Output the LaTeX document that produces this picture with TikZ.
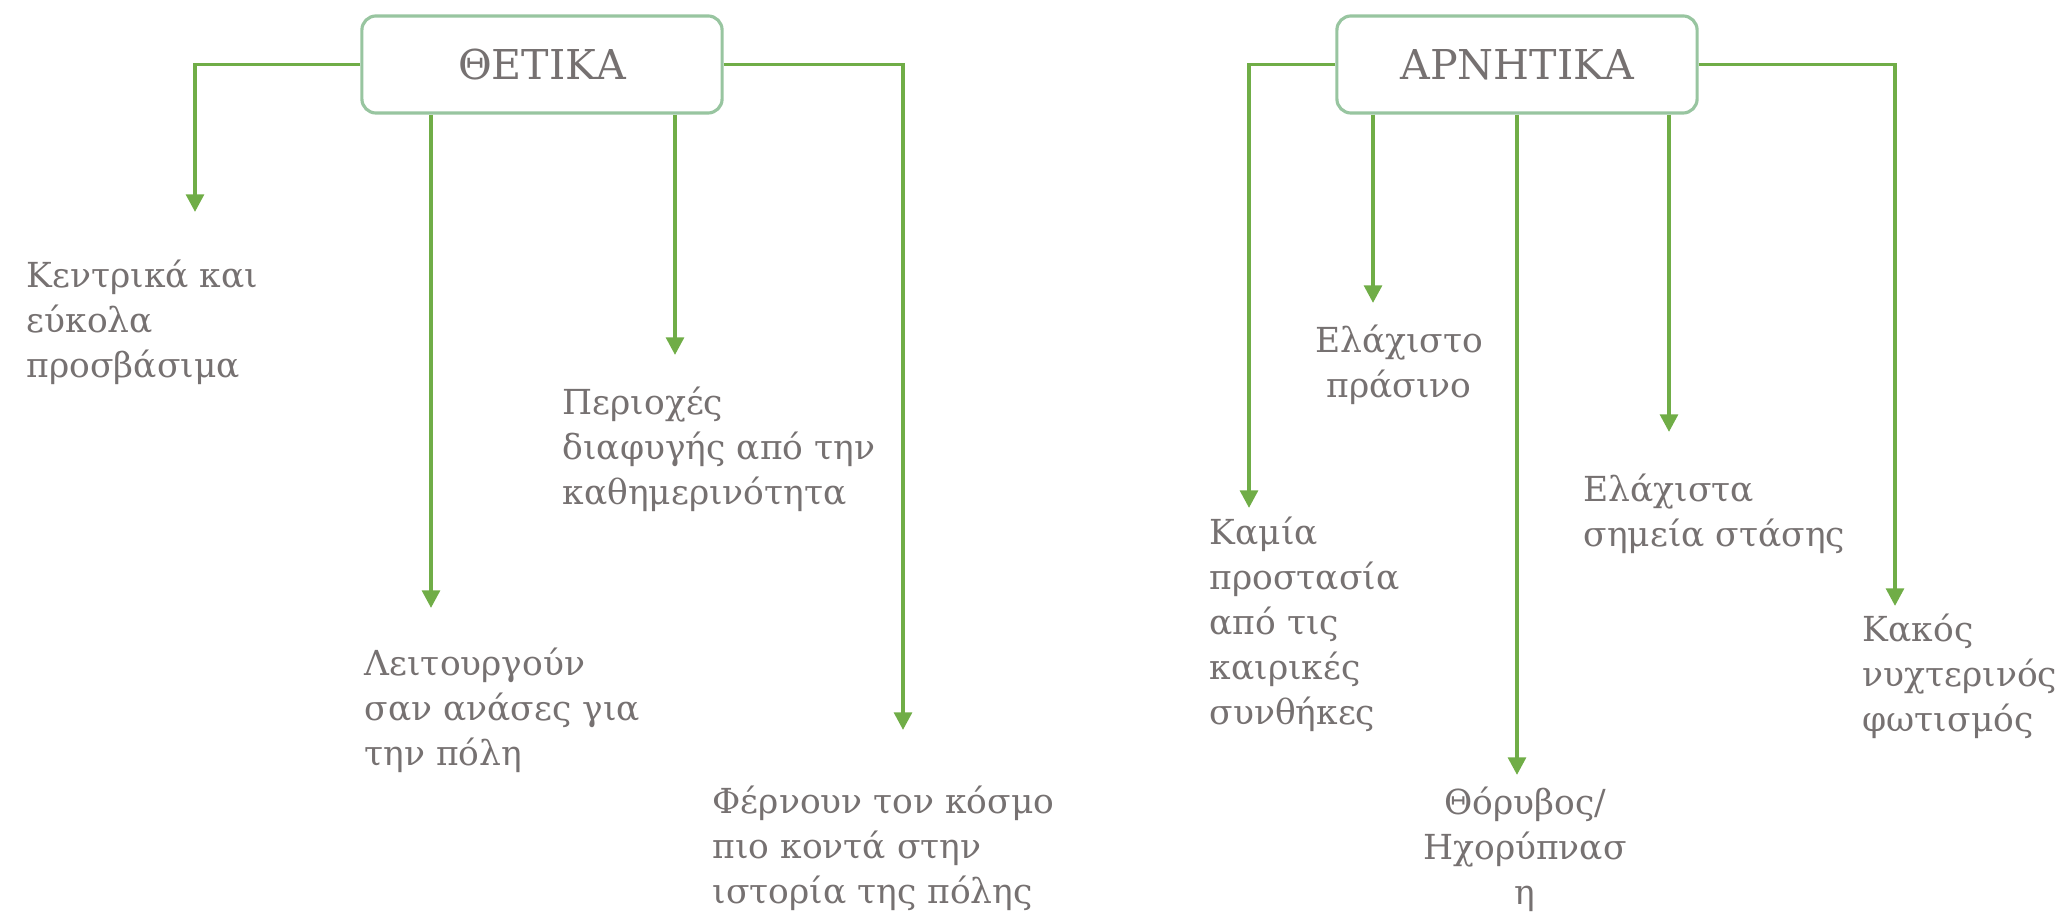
\documentclass[tikz,border=0pt]{standalone}
\usepackage{fontspec}
\setmainfont{DejaVu Serif}
\usepackage{tikz}
\usetikzlibrary{arrows.meta,positioning}

\definecolor{txtgray}{HTML}{767171}
\definecolor{boxgreen}{HTML}{98C5A0}
\definecolor{arrgreen}{HTML}{70AD47}

\begin{document}
\begin{tikzpicture}[
    x=0.01cm, y=-0.01cm,
    head/.style={draw=boxgreen, line width=0.9pt, rectangle, rounded corners=4pt, minimum width=3.6cm, minimum height=0.97cm, fill=white, text=txtgray, font=\fontsize{11.7}{14}\selectfont},
    item/.style={inner sep=0pt, anchor=base west, align=left, text=txtgray, font=\fontsize{9.8}{12.8}\selectfont},
    citem/.style={item, anchor=base, align=center},
    arrow/.style={draw=arrgreen, line width=1.1pt, -{Triangle[length=5pt,width=5pt]}}
]
    \useasboundingbox (0,0) rectangle (2057,913);

    % Nodes (text nodes sit on the baseline of their last line)
    \node[head] (pos) at (542,64.5) {ΘΕΤΙΚΑ};
    \node[head] (neg) at (1517,64.5) {ΑΡΝΗΤΙΚΑ};

    \node[item] (central) at (26,378) {Κεντρικά και\\εύκολα\\προσβάσιμα};
    \node[item] (breath) at (364,766) {Λειτουργούν\\σαν ανάσες για\\την πόλη};
    \node[item] (escape) at (562,505) {Περιοχές\\διαφυγής από την\\καθημερινότητα};
    \node[item] (history) at (712,904) {Φέρνουν τον κόσμο\\πιο κοντά στην\\ιστορία της πόλης};

    \node[citem] (green) at (1399,398) {Ελάχιστο\\πράσινο};
    \node[item] (weather) at (1209,725) {Καμία\\προστασία\\από τις\\καιρικές\\συνθήκες};
    \node[citem] (noise) at (1525,905) {Θόρυβος/\\Ηχορύπνασ\\η};
    \node[item] (stops) at (1583,547) {Ελάχιστα\\σημεία στάσης};
    \node[item] (light) at (1862,732) {Κακός\\νυχτερινός\\φωτισμός};

    % arrow ends
    \coordinate (tcentral) at (195,212);
    \coordinate (tbreath) at (431,608);
    \coordinate (tescape) at (675,355);
    \coordinate (thistory) at (903,730);
    \coordinate (tweather) at (1249,508);
    \coordinate (tgreen) at (1373,303);
    \coordinate (tnoise) at (1517,775);
    \coordinate (tstops) at (1669,432);
    \coordinate (tlight) at (1895,606);

    % Connections
    \path[arrow] (pos.west) -| (tcentral);
    \path[arrow] (pos.south -| tbreath) -- (tbreath);
    \path[arrow] (pos.south -| tescape) -- (tescape);
    \path[arrow] (pos.east) -| (thistory);

    \path[arrow] (neg.west) -| (tweather);
    \path[arrow] (neg.south -| tgreen) -- (tgreen);
    \path[arrow] (neg.south -| tnoise) -- (tnoise);
    \path[arrow] (neg.south -| tstops) -- (tstops);
    \path[arrow] (neg.east) -| (tlight);

\end{tikzpicture}
\end{document}
